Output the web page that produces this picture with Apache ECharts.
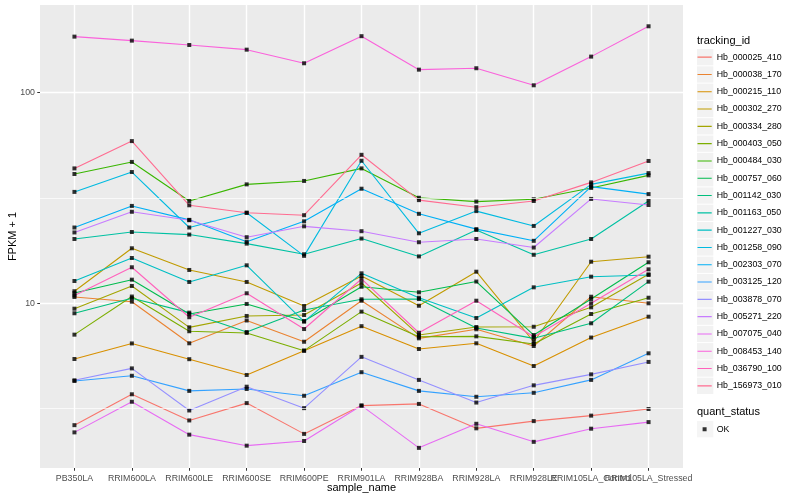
<!DOCTYPE html>
<html><head><meta charset="utf-8">
<script src="https://cdn.jsdelivr.net/npm/echarts@6/dist/echarts.min.js"></script>
<style>html,body{margin:0;padding:0;background:#fff}#c{width:800px;height:500px}</style>
</head><body><div id="c"></div>
<script>
// ---------- data ----------
const categories = ['PB350LA','RRIM600LA','RRIM600LE','RRIM600SE','RRIM600PE','RRIM901LA','RRIM928BA','RRIM928LA','RRIM928LE','RRIM105LA_Control','RRIM105LA_Stressed'];
const yTickValues = [10, 100];
const yMinorValues = [3.1623, 31.623];

const Hb_000025_410 = [2.64, 3.70, 2.78, 3.36, 2.40, 3.27, 3.33, 2.55, 2.76, 2.93, 3.15];
const Hb_000038_170 = [10.72, 10.18, 6.46, 8.29, 6.57, 10.29, 6.82, 7.53, 6.27, 10.75, 10.0];
const Hb_000215_110 = [5.44, 6.45, 5.43, 4.57, 5.96, 7.79, 6.07, 6.46, 5.04, 6.88, 8.64];
const Hb_000302_270 = [11.41, 18.25, 14.40, 12.63, 9.71, 13.48, 9.74, 14.13, 6.57, 15.76, 16.65];
const Hb_000334_280 = [9.43, 12.09, 7.69, 8.71, 8.80, 12.49, 7.07, 7.72, 7.74, 9.57, 13.73];
const Hb_000403_050 = [7.10, 10.77, 7.37, 7.23, 5.96, 9.13, 6.94, 6.97, 6.41, 8.90, 10.63];
const Hb_000484_030 = [41.1, 46.9, 30.6, 36.7, 38.1, 43.7, 31.7, 30.4, 31.2, 35.3, 40.5];
const Hb_000757_060 = [11.19, 12.95, 8.90, 9.93, 8.24, 11.99, 11.28, 12.69, 7.07, 10.48, 15.66];
const Hb_001142_030 = [8.97, 10.57, 9.03, 7.31, 9.30, 10.45, 10.48, 7.64, 6.82, 8.04, 12.67];
const Hb_001163_050 = [20.2, 21.8, 21.2, 19.2, 17.1, 20.3, 16.7, 22.3, 17.0, 20.2, 30.6];
const Hb_001227_030 = [12.76, 16.41, 12.63, 15.15, 8.18, 13.88, 10.63, 8.52, 11.91, 13.38, 13.63];
const Hb_001258_090 = [33.8, 42.0, 22.9, 26.9, 16.8, 47.5, 21.5, 27.4, 23.3, 36.7, 41.5];
const Hb_002303_070 = [22.9, 29.0, 24.9, 19.6, 24.5, 35.0, 26.6, 22.5, 19.8, 35.8, 33.0];
const Hb_003125_120 = [4.28, 4.53, 3.84, 3.92, 3.64, 4.71, 3.84, 3.60, 3.76, 4.33, 5.79];
const Hb_003878_070 = [4.31, 4.91, 3.10, 4.02, 3.18, 5.57, 4.33, 3.38, 4.08, 4.60, 5.27];
const Hb_005271_220 = [21.7, 27.2, 24.8, 20.6, 23.2, 22.0, 19.5, 20.2, 18.4, 31.3, 29.3];
const Hb_007075_040 = [2.44, 3.41, 2.38, 2.11, 2.22, 3.27, 2.06, 2.68, 2.20, 2.54, 2.73];
const Hb_008453_140 = [184.5, 176.6, 168.4, 160.0, 137.9, 185.4, 128.6, 130.6, 108.4, 148.3, 206.6];
const Hb_036790_100 = [10.89, 14.83, 8.59, 11.16, 7.55, 13.05, 7.25, 10.29, 6.94, 10.0, 14.50];
const Hb_156973_010 = [43.7, 58.9, 29.2, 26.9, 26.2, 50.7, 30.9, 28.6, 30.6, 37.5, 47.4];

const trackingIds = ['Hb_000025_410','Hb_000038_170','Hb_000215_110','Hb_000302_270','Hb_000334_280','Hb_000403_050','Hb_000484_030','Hb_000757_060','Hb_001142_030','Hb_001163_050','Hb_001227_030','Hb_001258_090','Hb_002303_070','Hb_003125_120','Hb_003878_070','Hb_005271_220','Hb_007075_040','Hb_008453_140','Hb_036790_100','Hb_156973_010'];
const seriesValues = [Hb_000025_410,Hb_000038_170,Hb_000215_110,Hb_000302_270,Hb_000334_280,Hb_000403_050,Hb_000484_030,Hb_000757_060,Hb_001142_030,Hb_001163_050,Hb_001227_030,Hb_001258_090,Hb_002303_070,Hb_003125_120,Hb_003878_070,Hb_005271_220,Hb_007075_040,Hb_008453_140,Hb_036790_100,Hb_156973_010];
const quantStatus = 'OK';

// ---------- style ----------
const palette = ['#F8766D','#EA8331','#D89000','#C09B00','#A3A500','#7CAE00','#39B600','#00BB4E','#00BF7D','#00C1A3','#00BFC4','#00BAE0','#00B0F6','#35A2FF','#9590FF','#C77CFF','#E76BF3','#FA62DB','#FF62BC','#FF6C91'];
const FONT = 'Liberation Sans, Arial, Helvetica, sans-serif';
const catIdx = categories.map((c, i) => i);
const evenIdx = catIdx.filter(i => i % 2 === 0);
const oddIdx = catIdx.filter(i => i % 2 === 1);
const KEY_W = 14.2, KEY_H = 16.3;
const lineIcon = 'path://M0,0 L0,0 Z M0,7.6 L14.2,7.6 L14.2,8.7 L0,8.7 Z M14.2,16.3 L14.2,16.3 Z';
const pointIcon = 'path://M0,0 L0,0 Z M5.1,6.15 L9.1,6.15 L9.1,10.15 L5.1,10.15 Z M14.2,16.3 L14.2,16.3 Z';

const lineSeries = trackingIds.map((name, k) => ({
  name: name,
  type: 'line',
  symbol: 'none',
  z: 2,
  data: seriesValues[k].map((v, i) => [i, v]),
  itemStyle: { color: palette[k] },
  lineStyle: { color: palette[k], width: 1.1 },
  emphasis: { disabled: true },
  silent: true
}));

const pointData = [];
seriesValues.forEach(arr => arr.forEach((v, i) => pointData.push([i, v])));

const xLabelStyle = { formatter: v => categories[Math.round(v)], fontSize: 8.8, color: '#4D4D4D', margin: 6.5, fontFamily: FONT, hideOverlap: false };

const chart = echarts.init(document.getElementById('c'), null, { renderer: 'canvas' });
chart.setOption({
  animation: false,
  backgroundColor: '#fff',
  textStyle: { fontFamily: FONT },
  grid: { left: 40, right: 117, top: 5, bottom: 32, show: true, backgroundColor: '#EBEBEB', borderWidth: 0, containLabel: false, outerBoundsMode: 'none' },
  title: [
    { text: 'tracking_id', left: 697, top: 35, padding: 0, textStyle: { fontSize: 11, fontWeight: 'normal', color: '#000', fontFamily: FONT } },
    { text: 'quant_status', left: 697, top: 406.5, padding: 0, textStyle: { fontSize: 11, fontWeight: 'normal', color: '#000', fontFamily: FONT } }
  ],
  xAxis: [
    {
      type: 'value', min: -0.6, max: 10.6, position: 'bottom',
      name: 'sample_name', nameLocation: 'middle', nameGap: 14, nameMoveOverlap: false,
      nameTextStyle: { fontSize: 11, color: '#000', fontFamily: FONT },
      axisLine: { show: false, onZero: false },
      axisTick: { show: true, customValues: catIdx, length: 2.75, lineStyle: { color: '#333', width: 1 } },
      axisLabel: Object.assign({ customValues: evenIdx }, xLabelStyle),
      splitLine: { show: true, lineStyle: { color: '#fff', width: 1.4 } }
    },
    {
      type: 'value', min: -0.6, max: 10.6, position: 'bottom', offset: 0,
      axisLine: { show: false, onZero: false },
      axisTick: { show: false, customValues: oddIdx },
      axisLabel: Object.assign({ customValues: oddIdx }, xLabelStyle),
      splitLine: { show: false }
    }
  ],
  yAxis: {
    type: 'log', logBase: 10, min: 1.653, max: 260.7,
    name: 'FPKM + 1', nameLocation: 'middle', nameGap: 22, nameMoveOverlap: false,
    nameTextStyle: { fontSize: 11, color: '#000', fontFamily: FONT },
    axisLine: { show: false, onZero: false },
    axisTick: { show: true, customValues: yTickValues, length: 2.75, lineStyle: { color: '#333', width: 1 } },
    axisLabel: { customValues: yTickValues, fontSize: 8.8, color: '#4D4D4D', margin: 5, fontFamily: FONT },
    splitLine: { show: true, lineStyle: { color: '#fff', width: 1.4 } }
  },
  legend: [
    { // grey key backgrounds
      orient: 'vertical', left: 697, top: 49, padding: 0, itemGap: 1, itemWidth: 16.3, itemHeight: KEY_H,
      selectedMode: false, icon: 'rect', formatter: () => '',
      itemStyle: { color: '#F2F2F2', borderWidth: 0 }, lineStyle: { width: 0 },
      data: trackingIds.map(n => ({ name: n, icon: 'rect', itemStyle: { color: '#F2F2F2', borderWidth: 0 } })),
      z: 1
    },
    { // line keys and labels
      orient: 'vertical', left: 697.5, top: 49, padding: 0, itemGap: 1, itemWidth: KEY_W, itemHeight: KEY_H,
      selectedMode: false, icon: lineIcon,
      textStyle: { fontSize: 8.8, color: '#000', fontFamily: FONT },
      data: trackingIds.map((n, k) => ({ name: n, icon: lineIcon, itemStyle: { color: palette[k], borderWidth: 0 } })),
      z: 2
    },
    { // OK key background
      orient: 'vertical', left: 697, top: 421, padding: 0, itemWidth: 16.3, itemHeight: KEY_H,
      selectedMode: false, icon: 'rect', formatter: () => '',
      itemStyle: { color: '#F2F2F2', borderWidth: 0 },
      data: [{ name: quantStatus, icon: 'rect', itemStyle: { color: '#F2F2F2', borderWidth: 0 } }], z: 1
    },
    { // OK key and label
      orient: 'vertical', left: 697.5, top: 421, padding: 0, itemWidth: KEY_W, itemHeight: KEY_H,
      selectedMode: false, icon: pointIcon,
      textStyle: { fontSize: 8.8, color: '#000', fontFamily: FONT },
      data: [quantStatus], z: 2
    }
  ],
  series: [
    {
      name: '_minorgrid', type: 'line', data: [], z: 1, silent: true,
      markLine: {
        silent: true, symbol: ['none', 'none'], label: { show: false },
        lineStyle: { color: '#fff', width: 0.7, type: 'solid' },
        emphasis: { disabled: true },
        data: yMinorValues.map(v => ({ yAxis: v }))
      }
    },
    ...lineSeries,
    {
      name: quantStatus, type: 'scatter', symbol: 'rect', symbolSize: 4, z: 3,
      itemStyle: { color: '#000' }, data: pointData, silent: true
    }
  ]
});
</script>
</body></html>
